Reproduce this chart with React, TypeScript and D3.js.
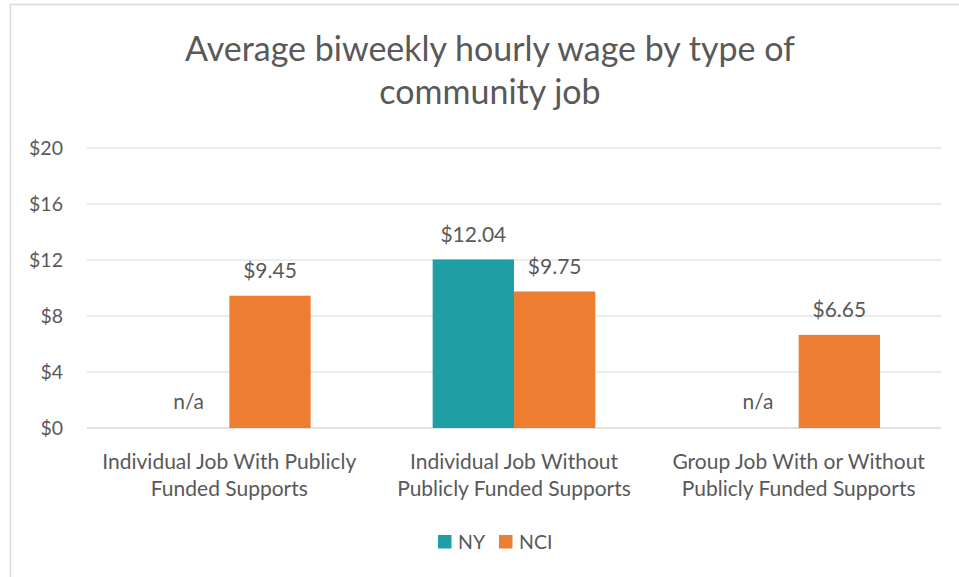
import React from "react";
import * as d3 from "d3";

const categories = [
  ["Individual Job With Publicly", "Funded Supports"],
  ["Individual Job Without", "Publicly Funded Supports"],
  ["Group Job With or Without", "Publicly Funded Supports"],
];
const seriesNames = ["NY", "NCI"];
const nyValues: (number | null)[] = [null, 12.04, null];
const nciValues: (number | null)[] = [9.45, 9.75, 6.65];
const yTicks = [0, 4, 8, 12, 16, 20];
const colors = ["#1F9EA6", "#ED7D31"];
const titleLines = ["Average biweekly hourly wage by type of", "community job"];

const W = 959;
const H = 577;
const FONT = "Lato, 'Open Sans', sans-serif";
const TEXT = "#595959";

export default function App() {
  const x = d3.scaleBand<number>().domain([0, 1, 2]).range([87, 941]);
  const inner = d3
    .scaleBand<number>()
    .domain([0, 1])
    .range([0, x.bandwidth()])
    .paddingInner(0)
    .paddingOuter(0.75);
  const y = d3.scaleLinear().domain([0, 20]).range([428, 148]);
  const series = [nyValues, nciValues];
  const fmt = (v: number) => "$" + v.toFixed(2);

  return (
    <svg width={W} height={H} style={{ position: "absolute", left: 0, top: 0 }}>
      <rect x={0} y={0} width={W} height={H} fill="#fff" />
      <rect x={10.5} y={4.5} width={980} height={600} fill="none" stroke="#d9d9d9" strokeWidth={1.5} />
      {titleLines.map((t, i) => (
        <text key={i} x={490} y={61 + i * 43} textAnchor="middle" fontFamily={FONT} fontSize={34} fill={TEXT}>
          {t}
        </text>
      ))}
      {yTicks.map((t) => (
        <g key={t}>
          <line x1={87} x2={941} y1={y(t)} y2={y(t)} stroke="#d9d9d9" strokeWidth={t === 0 ? 1.5 : 1} />
          <text x={63} y={y(t) + 7} textAnchor="end" fontFamily={FONT} fontSize={19.5} fill={TEXT}>
            {"$" + t}
          </text>
        </g>
      ))}
      {series.map((vals, si) =>
        vals.map((v, ci) => {
          const bx = (x(ci) as number) + (inner(si) as number);
          const bw = inner.bandwidth();
          if (v === null) {
            return (
              <text key={`${si}-${ci}`} x={bx + bw / 2} y={y(0) - 19} textAnchor="middle" fontFamily={FONT} fontSize={21} fill={TEXT}>
                n/a
              </text>
            );
          }
          return (
            <g key={`${si}-${ci}`}>
              <rect x={bx} y={y(v)} width={bw} height={y(0) - y(v)} fill={colors[si]} />
              <text x={bx + bw / 2} y={y(v) - 17.5} textAnchor="middle" fontFamily={FONT} fontSize={21} fill={TEXT}>
                {fmt(v)}
              </text>
            </g>
          );
        })
      )}
      {categories.map((lines, ci) =>
        lines.map((l, li) => (
          <text key={`${ci}-${li}`} x={(x(ci) as number) + x.bandwidth() / 2} y={469 + li * 27} textAnchor="middle" fontFamily={FONT} fontSize={21} fill={TEXT}>
            {l}
          </text>
        ))
      )}
      {seriesNames.map((n, i) => {
        const lx = [438, 499][i];
        return (
          <g key={n}>
            <rect x={lx} y={535} width={13.5} height={13.5} fill={colors[i]} />
            <text x={lx + 20} y={549} fontFamily={FONT} fontSize={19.5} fill={TEXT}>
              {n}
            </text>
          </g>
        );
      })}
    </svg>
  );
}
